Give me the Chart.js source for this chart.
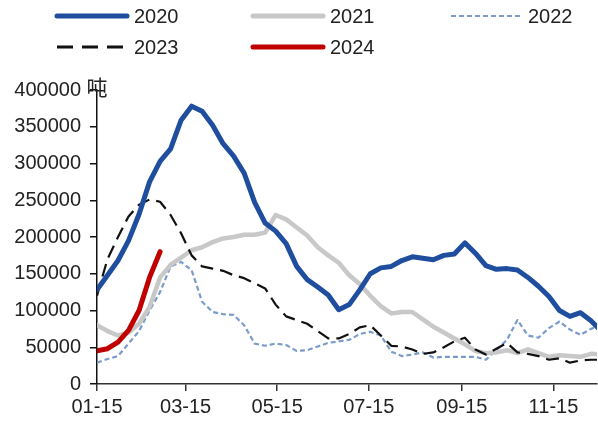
<!DOCTYPE html>
<html>
<head>
<meta charset="utf-8">
<script src="https://cdn.jsdelivr.net/npm/chart.js@4/dist/chart.umd.min.js"></script>
<style>
  html, body { margin: 0; padding: 0; background: #fff; }
  #wrap { width: 598px; height: 425px; position: relative; }
</style>
</head>
<body>
<div id="wrap"><canvas id="c" width="598" height="425"></canvas></div>
<script>
// Weekly readings, one value per week starting 01-15
const years = ['2020', '2021', '2022', '2023', '2024'];
const y2020 = [128000,148000,168000,195000,231000,275000,303000,320000,359000,378000,371000,352000,327000,310000,287000,247000,219000,208000,191000,160000,142000,132000,121000,101000,108000,128000,150000,158000,160000,168000,173000,171000,169000,175000,177000,192000,178000,161000,156000,157000,155000,145000,133000,119000,100000,92000,97000,86000,72000];
const y2021 = [80000,72000,66000,70000,82000,105000,145000,162000,172000,182000,186000,193000,198000,200000,203000,203000,206000,230000,224000,213000,202000,186000,175000,165000,148000,136000,120000,106000,96000,98000,98000,88000,78000,70000,62000,54000,45000,42000,43000,46000,42000,47000,42000,37000,39000,38000,37000,41000,40000];
const y2022 = [29000,34000,38000,55000,72000,100000,125000,160000,166000,155000,112000,98000,95000,94000,80000,55000,52000,55000,53000,45000,46000,51000,56000,58000,60000,68000,71000,66000,44000,38000,40000,43000,36000,37000,37000,37000,37000,33000,46000,60000,87000,66000,63000,76000,85000,74000,67000,75000,80000];
const y2023 = [120000,170000,200000,228000,244000,251000,248000,230000,205000,175000,160000,157000,154000,148000,144000,137000,130000,108000,92000,87000,82000,72000,62000,62000,68000,77000,80000,66000,52000,51000,47000,41000,43000,50000,58000,63000,47000,40000,48000,56000,43000,41000,38000,33000,35000,29000,32000,33000,33000];
const y2024 = [45000,48000,57000,73000,100000,145000,180000];

// Axis ticks: days after 01-15 and their labels
const tickDays = [0, 59, 120, 181, 243, 304];
const tickLabels = ['01-15', '03-15', '05-15', '07-15', '09-15', '11-15'];
const unitLabel = '吨';

const toPoints = arr => arr.map((v, i) => ({ x: i * 7, y: v }));

const FONT = "'Liberation Sans', Arial, sans-serif";

// Legend laid out as a grid of 3 columns
const legendGrid = {
  id: 'legendGrid',
  afterDraw(chart) {
    const ctx = chart.ctx;
    const colX = [57, 253, 451];
    const rowY = [16, 47];
    const lineLen = 70;
    ctx.save();
    chart.data.datasets.forEach((ds, i) => {
      const x = colX[i % 3];
      const y = rowY[Math.floor(i / 3)];
      ctx.beginPath();
      ctx.strokeStyle = ds.borderColor;
      ctx.lineWidth = ds.legendWidth;
      ctx.lineCap = ds.borderDash.length ? 'butt' : 'round';
      ctx.setLineDash(ds.legendDash || []);
      ctx.moveTo(x, y);
      ctx.lineTo(x + lineLen, y);
      ctx.stroke();
      ctx.setLineDash([]);
      ctx.fillStyle = '#222';
      ctx.font = '20px ' + FONT;
      ctx.textBaseline = 'middle';
      ctx.textAlign = 'left';
      ctx.fillText(ds.label, x + lineLen + 7, y + 1);
    });
    // unit above the value axis
    const ya = chart.scales.y;
    ctx.font = "21px 'Noto Sans CJK SC', sans-serif";
    ctx.textAlign = 'center';
    ctx.textBaseline = 'middle';
    ctx.fillStyle = '#222';
    ctx.fillText(unitLabel, ya.right, ya.top - 3);
    ctx.restore();
  }
};

const series = [
  { data: y2020, color: '#1f4e9f', width: 5, dash: [], legendDash: [], legendWidth: 5, order: 2 },
  { data: y2021, color: '#c8c8c8', width: 4.5, dash: [], legendDash: [], legendWidth: 5, order: 4 },
  { data: y2022, color: '#7b9bcb', width: 2.2, dash: [5, 3], legendDash: [5, 3], legendWidth: 2, order: 5 },
  { data: y2023, color: '#111111', width: 2.2, dash: [13, 7], legendDash: [16, 9], legendWidth: 3, order: 3 },
  { data: y2024, color: '#c00000', width: 5, dash: [], legendDash: [], legendWidth: 5, order: 1 }
];

new Chart(document.getElementById('c'), {
  type: 'line',
  data: {
    datasets: series.map((s, i) => ({
      label: years[i],
      data: toPoints(s.data),
      borderColor: s.color,
      backgroundColor: s.color,
      borderWidth: s.width,
      borderDash: s.dash,
      legendDash: s.legendDash,
      legendWidth: s.legendWidth,
      borderCapStyle: s.dash.length ? 'butt' : 'round',
      borderJoinStyle: 'round',
      pointRadius: 0,
      tension: 0,
      fill: false,
      order: s.order
    }))
  },
  options: {
    responsive: false,
    animation: false,
    events: [],
    layout: { padding: { top: 90, right: 1, left: 0, bottom: 0 } },
    plugins: { legend: { display: false }, tooltip: { enabled: false } },
    scales: {
      x: {
        type: 'linear',
        min: 0,
        max: 333,
        afterBuildTicks: s => { s.ticks = tickDays.map(v => ({ value: v })); },
        afterFit: s => { s.height = 41; },
        grid: { drawOnChartArea: false, drawTicks: true, tickLength: 7, color: '#333', lineWidth: 1.5 },
        border: { display: true, color: '#333', width: 1.5 },
        ticks: {
          autoSkip: false,
          maxRotation: 0,
          padding: 4,
          color: '#222',
          font: { family: FONT, size: 20 },
          callback: v => tickLabels[tickDays.indexOf(v)] ?? ''
        }
      },
      y: {
        min: 0,
        max: 400000,
        afterFit: s => { s.width = 97; },
        grid: { drawOnChartArea: false, drawTicks: true, tickLength: 7, color: '#111', lineWidth: 1.5 },
        border: { display: true, color: '#111', width: 1.5 },
        ticks: {
          stepSize: 50000,
          padding: 9,
          color: '#222',
          font: { family: FONT, size: 20 },
          callback: v => String(v)
        }
      }
    }
  },
  plugins: [legendGrid]
});
</script>
</body>
</html>
